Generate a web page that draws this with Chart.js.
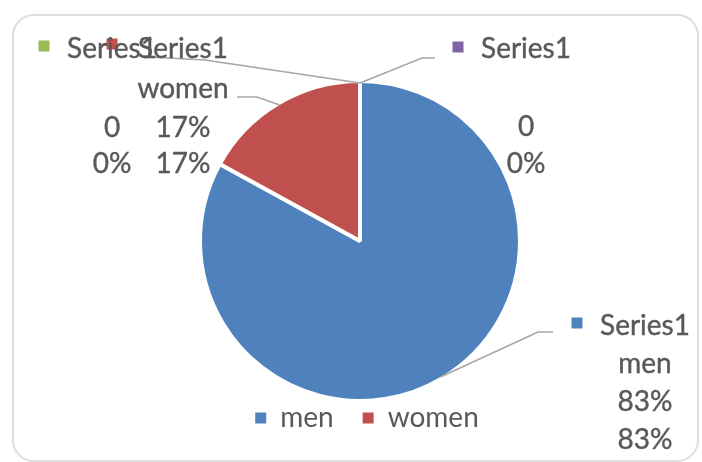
<!DOCTYPE html>
<html>
<head>
<meta charset="utf-8">
<script src="https://cdn.jsdelivr.net/npm/chart.js@4.4.1/dist/chart.umd.min.js"></script>
<style>
  html, body { margin: 0; padding: 0; background: #ffffff; }
  #wrap { position: relative; width: 702px; height: 462px; overflow: hidden; }
  #frame { position: absolute; left: 12px; top: 14px; width: 683px; height: 444px;
           border: 2px solid #dedede; border-radius: 22px; pointer-events: none;
           box-shadow: 0 0 2px rgba(0,0,0,0.06); }
  canvas { position: absolute; left: 0; top: 0; }
</style>
</head>
<body>
<div id="wrap">
  <canvas id="c" width="702" height="462"></canvas>
  <div id="frame"></div>
</div>
<script>
// ---- data ----
const seriesName = 'Series1';
const categories = ['men', 'women', '', ''];
const values = [0.83, 0.17, 0, 0];
const sliceColors = ['#4F81BD', '#C0504D', '#9BBB59', '#8064A2'];

const textColor = '#595959';
const leaderColor = '#A6A6A6';
const FONT = '28px Lato';

function valueText(v) { return v === 0 ? '0' : Math.round(v * 100) + '%'; }
function percentText(v, total) { return Math.round(v / total * 100) + '%'; }

// label placement (text positions only)
const labelLayout = [
  { cx: 645, base: [335, 373, 411, 449], key: [577, 323], leader: [[538, 332], [553, 332]] },
  { cx: 183, base: [58, 98, 137, 173],  key: [112, 44],  leader: [[257, 97], [237, 97]] },
  { cx: 112, base: [58, 98, 137, 173],  key: [44, 46],   leader: [[205, 60], [150, 57]] },
  { cx: 526, base: [58, 98, 136, 173],  key: [458, 47],  leader: [[422, 58], [435, 58]] }
];

const labelPlugin = {
  id: 'excelLabels',
  afterLayout(chart) {
    // nudge the legend a little to the right, as in the reference
    if (chart.legend) { chart.legend.left += 7; chart.legend.right += 7; }
  },
  afterDatasetsDraw(chart) {
    const ctx = chart.ctx;
    const meta = chart.getDatasetMeta(0);
    const ds = chart.data.datasets[0];
    const total = ds.data.reduce((a, b) => a + b, 0);
    ctx.save();
    // leader lines
    meta.data.forEach((arc, i) => {
      const p = arc.getProps(['x', 'y', 'startAngle', 'endAngle', 'outerRadius'], true);
      const mid = (p.startAngle + p.endAngle) / 2;
      const r = p.outerRadius - 2;
      const ex = p.x + Math.cos(mid) * r;
      const ey = p.y + Math.sin(mid) * r;
      const L = labelLayout[i];
      ctx.beginPath();
      ctx.moveTo(ex, ey);
      L.leader.forEach(pt => ctx.lineTo(pt[0], pt[1]));
      ctx.strokeStyle = leaderColor;
      ctx.lineWidth = 1.6;
      ctx.stroke();
    });
    // labels
    meta.data.forEach((arc, i) => {
      const L = labelLayout[i];
      const lines = [seriesName, chart.data.labels[i], valueText(ds.data[i]), percentText(ds.data[i], total)];
      ctx.fillStyle = sliceColors[i];
      ctx.fillRect(L.key[0] - 5.5, L.key[1] - 5.5, 11, 11);
      ctx.font = FONT;
      ctx.fillStyle = textColor;
      ctx.strokeStyle = textColor;
      ctx.lineWidth = 0.4;
      ctx.textAlign = 'center';
      ctx.textBaseline = 'alphabetic';
      lines.forEach((t, k) => { if (t) { ctx.fillText(t, L.cx, L.base[k]); ctx.strokeText(t, L.cx, L.base[k]); } });
    });
    ctx.restore();
  }
};

new Chart(document.getElementById('c'), {
  type: 'pie',
  data: {
    labels: categories,
    datasets: [{
      label: seriesName,
      data: values,
      backgroundColor: sliceColors,
      borderColor: '#ffffff',
      borderWidth: 4
    }]
  },
  options: {
    responsive: false,
    animation: false,
    devicePixelRatio: 1,
    radius: 160,
    layout: { padding: { left: 118, right: 100, top: 107, bottom: 20 } },
    plugins: {
      tooltip: { enabled: false },
      legend: {
        position: 'bottom',
        labels: {
          boxWidth: 11,
          boxHeight: 11,
          padding: 29,
          color: textColor,
          font: { family: 'Lato', size: 28 },
          generateLabels: (chart) => categories.map((c, i) => ({
            text: c, fillStyle: sliceColors[i], strokeStyle: sliceColors[i],
            lineWidth: 0, hidden: false, index: i, fontColor: textColor
          })).filter(it => it.text !== '')
        }
      }
    }
  },
  plugins: [labelPlugin]
});
</script>
</body>
</html>
